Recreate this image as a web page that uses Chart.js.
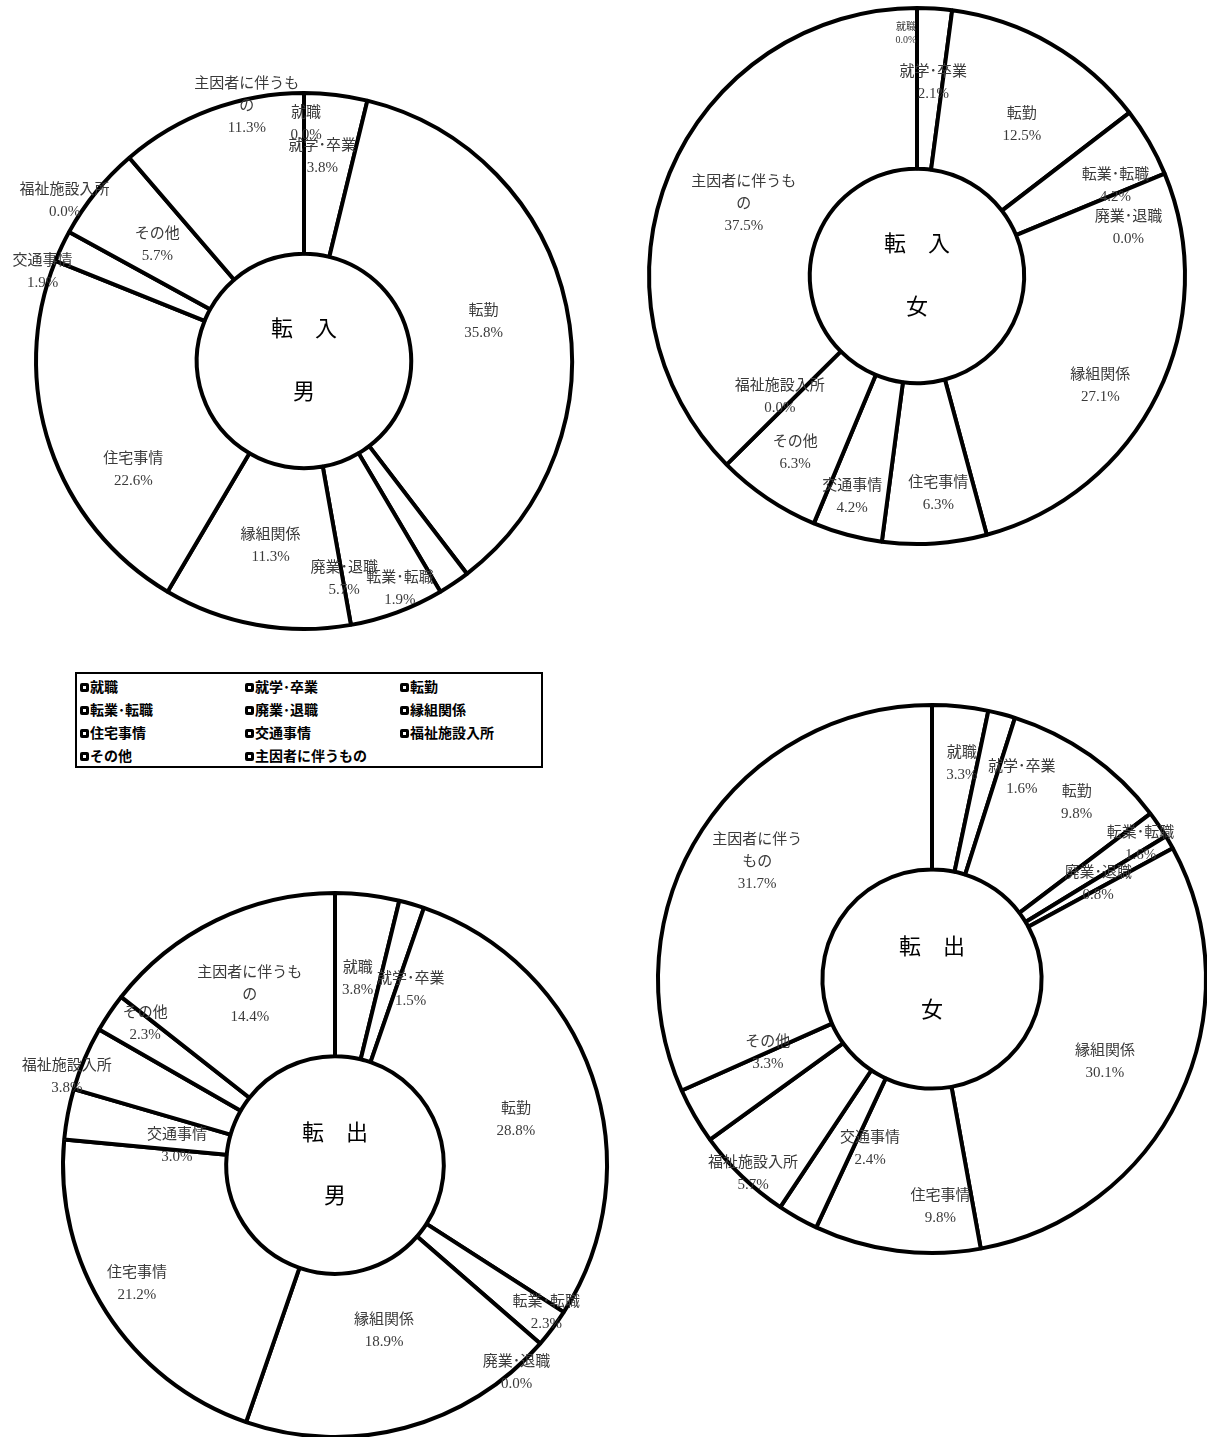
<!DOCTYPE html>
<html><head><meta charset="utf-8">
<script src="https://cdn.jsdelivr.net/npm/chart.js@4/dist/chart.umd.min.js"></script>
<style>
html,body{margin:0;padding:0;background:#fff;width:1207px;height:1437px;overflow:hidden;position:relative;}
canvas{position:absolute;}
#legend{position:absolute;left:75px;top:672px;width:464px;height:92px;border:2px solid #000;}
.li{position:absolute;font:bold 14px "Noto Sans CJK JP",sans-serif;color:#000;white-space:nowrap;line-height:16px;}
.ic{display:inline-block;width:3px;height:3px;border:3px solid #000;background:#fff;border-radius:2px;margin-right:1px;vertical-align:middle;position:relative;top:-1px;}
</style></head><body>
<div id="legend"></div>
<canvas id="c0"></canvas><canvas id="c1"></canvas><canvas id="c2"></canvas><canvas id="c3"></canvas>
<script>
// ---- data ----
const categories = ['就職','就学･卒業','転勤','転業･転職','廃業･退職','縁組関係','住宅事情','交通事情','福祉施設入所','その他','主因者に伴うもの'];
const inMale    = [0.0, 3.8, 35.8, 1.9, 5.7, 11.3, 22.6, 1.9, 0.0, 5.7, 11.3];
const inFemale  = [0.0, 2.1, 12.5, 4.2, 0.0, 27.1, 6.3, 4.2, 0.0, 6.3, 37.5];
const outMale   = [3.8, 1.5, 28.8, 2.3, 0.0, 18.9, 21.2, 3.0, 3.8, 2.3, 14.4];
const outFemale = [3.3, 1.6, 9.8, 1.6, 0.8, 30.1, 9.8, 2.4, 5.7, 3.3, 31.7];
const centerTitles = [['転　入','男'], ['転　入','女'], ['転　出','男'], ['転　出','女']];
const seriesList = [inMale, inFemale, outMale, outFemale];

// ---- layout (positions / styles) ----
const SIZE = 660;
const layout = [
  {cx:304, cy:361, r:268, wrap:7,
   nudge:[[2,-49],[-4,-18],[-4,0],[-9,73],[-25,42],[0,0],[7,49],[-92,-9],[-75,-70],[-1,2],[8,-79]]},
  {cx:917, cy:276, r:268, wrap:7, small:{0:true},
   nudge:[[-11,-55],[4,-6],[11,12],[36,4],[38,24],[15,27],[9,31],[-16,40],[-65,-52],[-17,21],[0,0]]},
  {cx:335, cy:1165, r:272, wrap:7,
   nudge:[[0,3],[22,8],[1,17],[59,34],[38,83],[0,-18],[-38,16],[29,17],[-93,-13],[-32,-34],[-2,1]]},
  {cx:932, cy:979, r:274, wrap:6,
   nudge:[[10,-24],[41,-15],[34,-19],[50,-27],[0,1],[0,0],[33,38],[32,3],[-46,57],[2,-22],[-14,-12]]}
];
const LABEL_FONT = '"Liberation Serif","Noto Sans CJK JP",serif';

function wrapText(t, n){
  const out=[]; for(let i=0;i<t.length;i+=n) out.push(t.slice(i,i+n)); return out;
}

const labelPlugin = {
  id:'sliceLabels',
  afterDatasetsDraw(chart, args, o){
    const ctx = chart.ctx;
    const meta = chart.getDatasetMeta(0);
    const vals = chart.data.datasets[0].data;
    const labels = chart.data.labels;
    ctx.save();
    ctx.textAlign='center'; ctx.textBaseline='middle';
    ctx.fillStyle = '#3a3a3a';
    meta.data.forEach((arc,i)=>{
      const p = arc.getCenterPoint();
      const n = o.nudge[i] || [0,0];
      const sm = o.small && o.small[i];
      const fs = sm ? 10 : 15, lh = sm ? 13 : 22;
      const lines = wrapText(labels[i], o.wrap).concat([vals[i].toFixed(1)+'%']);
      const x = p.x + n[0];
      const y0 = p.y + n[1] - (lines.length-1)*lh/2;
      ctx.font = fs+'px '+LABEL_FONT;
      lines.forEach((t,k)=>ctx.fillText(t, x, y0+k*lh));
    });
    const a = meta.data[0];
    ctx.fillStyle='#000';
    ctx.font = '22px '+LABEL_FONT;
    ctx.fillText(o.title[0], a.x, a.y-31);
    ctx.fillText(o.title[1], a.x, a.y+32);
    ctx.restore();
  }
};

seriesList.forEach((vals, idx)=>{
  const L = layout[idx];
  const cv = document.getElementById('c'+idx);
  cv.width = SIZE; cv.height = SIZE;
  cv.style.left = (L.cx - SIZE/2)+'px';
  cv.style.top = (L.cy - SIZE/2)+'px';
  new Chart(cv, {
    type:'doughnut',
    data:{labels:categories, datasets:[{data:vals, backgroundColor:'#fff', borderColor:'#000', borderWidth:4, borderAlign:'center'}]},
    options:{
      responsive:false, animation:false, radius:L.r, cutout:'40%',
      layout:{padding:0},
      events:[],
      plugins:{legend:{display:false}, tooltip:{enabled:false},
        sliceLabels:{nudge:L.nudge, wrap:L.wrap, small:L.small, title:centerTitles[idx]}}
    },
    plugins:[labelPlugin]
  });
});

// HTML legend built from categories
const lg = document.getElementById('legend');
const colX = [3, 168, 323], rowY = [12, 35, 58, 81];
categories.forEach((c,i)=>{
  const d = document.createElement('div');
  d.className='li';
  d.style.left = colX[i%3]+'px';
  d.style.top = (rowY[Math.floor(i/3)]-8)+'px';
  d.innerHTML = '<span class="ic"></span>'+c;
  lg.appendChild(d);
});
</script>
</body></html>
